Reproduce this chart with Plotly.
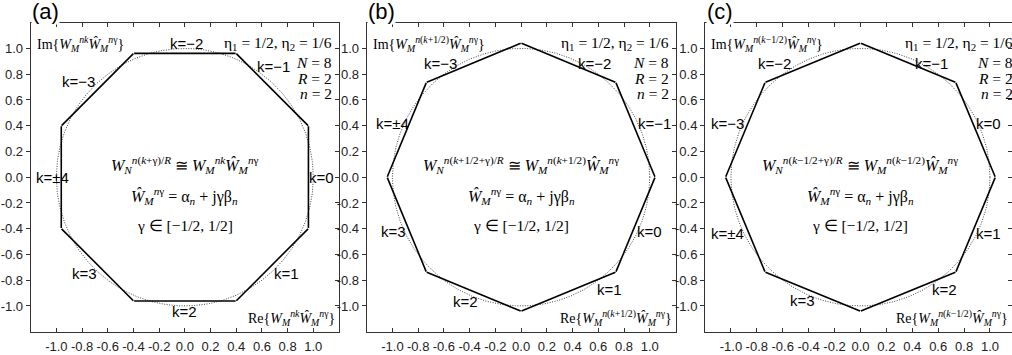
import numpy as np
import plotly.graph_objects as go

# ---------------- data ----------------
N_size = 8                      # N = 8 -> segments every 2*pi/N
k_values = [-4, -3, -2, -1, 0, 1, 2, 3]
k_labels = ["k=\u00b14", "k=\u22123", "k=\u22122", "k=\u22121", "k=0", "k=1", "k=2", "k=3"]
panel_offsets = [0.0, 0.5, -0.5]          # k, k+1/2, k-1/2
panel_tags = ["(a)", "(b)", "(c)"]
alpha_n = 0.962
beta_n = 0.79
gamma_range = [-0.5, 0.5]
circle_radius = 1.0
tick_vals = [-1.0, -0.8, -0.6, -0.4, -0.2, 0.0, 0.2, 0.4, 0.6, 0.8, 1.0]
tick_text = ["-1.0", "-0.8", "-0.6", "-0.4", "-0.2", "0.0", "0.2", "0.4", "0.6", "0.8", "1.0"]
shift_text = ["", "+1/2", "\u22121/2"]

# ---------------- layout helpers ----------------
W, H = 1012, 355
x_dom_px = [(30.7, 339.0), (366.7, 675.5), (705.0, 1012.0)]
y_dom_px = (22.7, 331.7)
x_ranges = [[-1.2, 1.2], [-1.2, 1.2], [-1.2, 1.17]]
y_range = [-1.2, 1.2]
right_text_pad = [5, 5, -3]     # px from right frame for the parameter texts

# k-label placement (data coords) per panel, in k_values order
label_pos = [
    [(-1.03, 0.0), (-0.83, 0.74), (0.01, 1.04), (0.69, 0.86), (1.06, 0.0), (0.79, -0.75), (0.0, -1.045), (-0.78, -0.75)],
    [(-1.0, 0.418), (-0.63, 0.883), (0.572, 0.883), (1.037, 0.418), (0.998, -0.422), (0.688, -0.874), (-0.436, -0.965), (-0.99, -0.422)],
    [(-1.03, -0.435), (-1.03, 0.416), (-0.66, 0.883), (0.55, 0.883), (0.985, 0.416), (0.985, -0.435), (0.65, -0.874), (-0.45, -0.96)],
]

SERIF = "Liberation Serif"
SANS = "Liberation Sans"


def Wterm(sub, sup, hat=False):
    base = "\u0174" if hat else "W"
    return f"<i>{base}</i><sub><i>{sub}</i></sub><sup>{sup}</sup>"


What = Wterm("M", "<i>n</i>\u03b3", hat=True)

fig = go.Figure()
annotations = []
layout_axes = {}

theta_c = np.linspace(0, 2 * np.pi, 721)

for p, off in enumerate(panel_offsets):
    i = p + 1
    xn = "x" if i == 1 else f"x{i}"
    yn = "y" if i == 1 else f"y{i}"
    yr_idx = i + 3
    yrn = f"y{yr_idx}"

    # unit circle (dotted)
    fig.add_trace(go.Scatter(
        x=circle_radius * np.cos(theta_c), y=circle_radius * np.sin(theta_c),
        mode="lines", line=dict(color="#444444", width=1, dash="1px,1.5px"),
        xaxis=xn, yaxis=yn, hoverinfo="skip", showlegend=False))

    # segments W_M^{n(k+off)} * (alpha + j*gamma*beta)
    xs, ys = [], []
    for k in k_values:
        th = -2 * np.pi * (k + off) / N_size
        rot = np.exp(1j * th)
        for g in gamma_range:
            z = rot * (alpha_n + 1j * g * beta_n)
            xs.append(z.real)
            ys.append(z.imag)
        xs.append(None)
        ys.append(None)
    fig.add_trace(go.Scatter(
        x=xs, y=ys, mode="lines", line=dict(color="black", width=1.6),
        xaxis=xn, yaxis=yn, hoverinfo="skip", showlegend=False))

    # invisible trace for the right-hand overlay axis (inside ticks)
    fig.add_trace(go.Scatter(x=[0], y=[0], mode="markers", marker=dict(opacity=0),
                             xaxis=xn, yaxis=yrn, hoverinfo="skip", showlegend=False))

    x0p, x1p = x_dom_px[p]
    xdom = [x0p / W, min(x1p / W, 1.0)]
    ydom = [(H - y_dom_px[1]) / H, (H - y_dom_px[0]) / H]
    xkey = "xaxis" if i == 1 else f"xaxis{i}"
    ykey = "yaxis" if i == 1 else f"yaxis{i}"
    layout_axes[xkey] = dict(
        domain=xdom, range=x_ranges[p], anchor=yn,
        tickvals=tick_vals, ticktext=tick_text, ticks="inside", ticklen=4,
        tickcolor="#333", showline=True, linecolor="#333", linewidth=1,
        mirror="ticks", showgrid=False, zeroline=False, ticklabelstandoff=3,
        tickfont=dict(family=SANS, size=13, color="#222"))
    layout_axes[ykey] = dict(
        domain=ydom, range=y_range, anchor=xn,
        tickvals=tick_vals, ticktext=tick_text, ticks="outside", ticklen=4,
        tickcolor="#333", showline=True, linecolor="#333", linewidth=1,
        mirror=True, showgrid=False, zeroline=False,
        tickfont=dict(family=SANS, size=13, color="#222"))
    layout_axes[f"yaxis{yr_idx}"] = dict(
        overlaying=yn, side="right", anchor=xn, range=y_range,
        tickvals=tick_vals, ticks="inside", ticklen=4, tickcolor="#333",
        showticklabels=False, showline=False, showgrid=False, zeroline=False)

    # k labels
    for lab, (lx, ly) in zip(k_labels, label_pos[p]):
        annotations.append(dict(x=lx, y=ly, xref=xn, yref=yn, text=lab, showarrow=False,
                                font=dict(family=SANS, size=15, color="black"),
                                xanchor="center", yanchor="middle"))

    # panel tag
    annotations.append(dict(x=(x0p + 0.5) / W, y=(H - 11.5) / H, xref="paper", yref="paper",
                            text=panel_tags[p], showarrow=False, bgcolor="white",
                            font=dict(family=SANS, size=22, color="black"),
                            xanchor="left", yanchor="middle", borderpad=0))

    sh = shift_text[p]
    sup_k = "<i>nk</i>" if sh == "" else f"<i>n</i>(<i>k</i>{sh})"
    sup_N = "<i>n</i>(<i>k</i>+\u03b3)/<i>R</i>" if sh == "" else f"<i>n</i>(<i>k</i>{sh}+\u03b3)/<i>R</i>"

    xl = x_ranges[p][0]
    xr = x_ranges[p][1]
    px_per_unit = (x1p - x0p) / (xr - xl)
    left_in = xl + 4 / px_per_unit
    right_in2 = xr - 2 / px_per_unit
    right_paper = (x1p - right_text_pad[p]) / W

    annotations += [
        dict(x=left_in, y=1.035, xref=xn, yref=yn, xanchor="left", yanchor="middle",
             text="Im{" + Wterm("M", sup_k) + What + "}", showarrow=False,
             font=dict(family=SERIF, size=14, color="black")),
        dict(x=right_paper, y=1.035, xref="paper", yref=yn, xanchor="right", yanchor="middle",
             text="\u03b7<sub>1</sub> = 1/2, \u03b7<sub>2</sub> = 1/6", showarrow=False,
             font=dict(family=SERIF, size=15.5, color="black")),
        dict(x=right_paper, y=0.893, xref="paper", yref=yn, xanchor="right", yanchor="middle",
             text="<i>N</i> = 8", showarrow=False, font=dict(family=SERIF, size=15.5, color="black")),
        dict(x=right_paper, y=0.77, xref="paper", yref=yn, xanchor="right", yanchor="middle",
             text="<i>R</i> = 2", showarrow=False, font=dict(family=SERIF, size=15.5, color="black")),
        dict(x=right_paper, y=0.65, xref="paper", yref=yn, xanchor="right", yanchor="middle",
             text="<i>n</i> = 2", showarrow=False, font=dict(family=SERIF, size=15.5, color="black")),
        dict(x=0.0, y=0.095, xref=xn, yref=yn, xanchor="center", yanchor="middle",
             text=Wterm("N", sup_N) + " \u2245 " + Wterm("M", sup_k) + What, showarrow=False,
             font=dict(family=SERIF, size=16, color="black")),
        dict(x=0.0, y=-0.145, xref=xn, yref=yn, xanchor="center", yanchor="middle",
             text=What + " = \u03b1<sub><i>n</i></sub> + j\u03b3\u03b2<sub><i>n</i></sub>", showarrow=False,
             font=dict(family=SERIF, size=16, color="black")),
        dict(x=0.0, y=-0.378, xref=xn, yref=yn, xanchor="center", yanchor="middle",
             text="\u03b3 \u2208 [\u22121/2, 1/2]", showarrow=False,
             font=dict(family=SERIF, size=15.5, color="black")),
        dict(x=right_in2, y=-1.09, xref=xn, yref=yn, xanchor="right", yanchor="middle",
             text="Re{" + Wterm("M", sup_k) + What + "}", showarrow=False,
             font=dict(family=SERIF, size=14, color="black")),
    ]

fig.update_layout(
    width=W, height=H, autosize=False,
    margin=dict(l=0, r=0, t=0, b=0),
    paper_bgcolor="white", plot_bgcolor="white",
    showlegend=False, annotations=annotations,
    **layout_axes)

fig.write_html("out.html", config={"displayModeBar": False},
               post_script="document.body.style.margin='0';document.body.style.overflow='hidden';")
